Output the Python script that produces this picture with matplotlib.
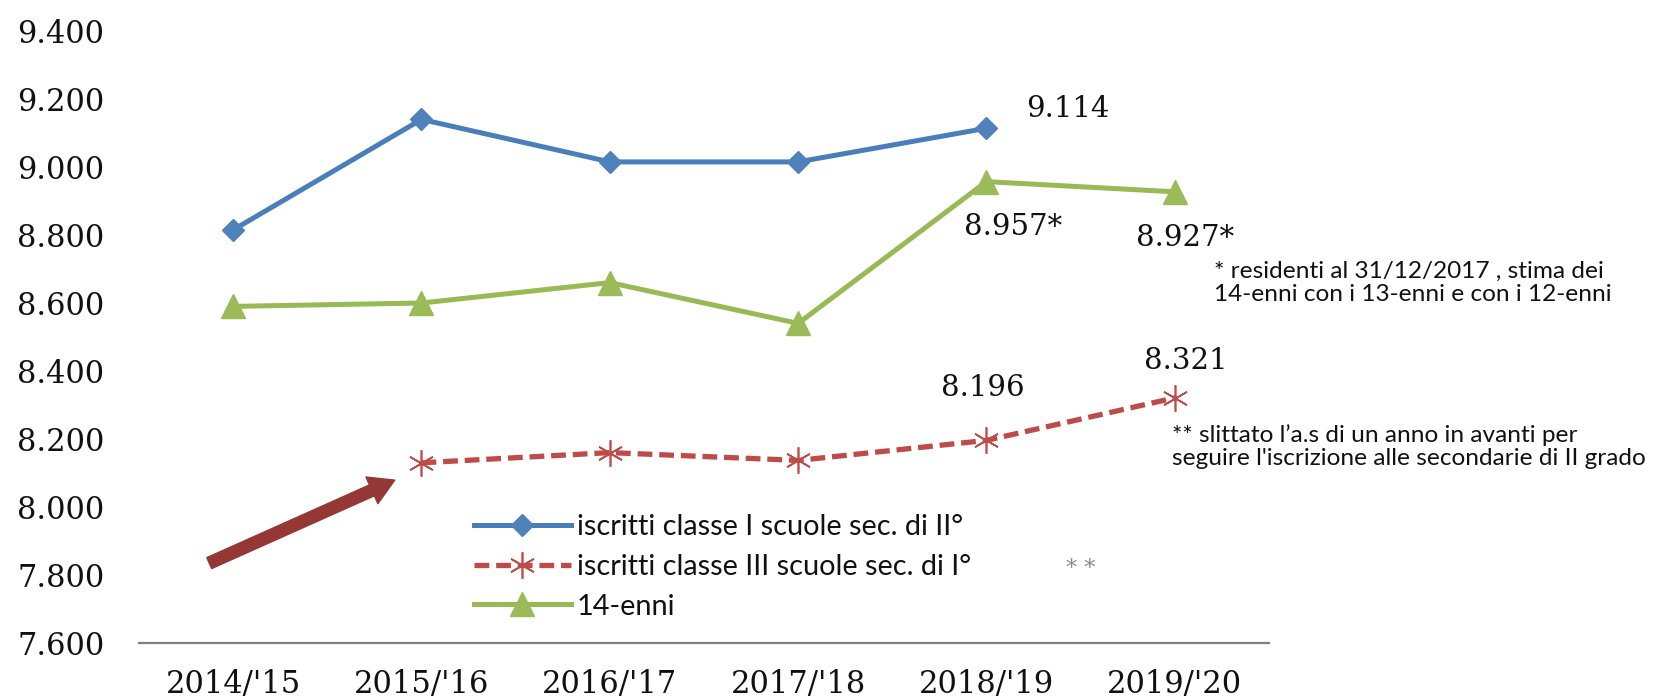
import numpy as np
import matplotlib
matplotlib.use("Agg")
import matplotlib.pyplot as plt
from matplotlib.patches import ArrowStyle

# ---------------- data ----------------
categories = ["2014/'15", "2015/'16", "2016/'17", "2017/'18", "2018/'19", "2019/'20"]
iscritti_I_sec_II = [8815, 9140, 9015, 9015, 9114, np.nan]
iscritti_III_sec_I = [np.nan, 8130, 8160, 8137, 8196, 8321]
quattordicenni = [8590, 8600, 8660, 8540, 8957, 8927]

series_names = ["iscritti classe I scuole sec. di II°",
                "iscritti classe III scuole sec. di I°",
                "14-enni"]

yticks = [7600, 7800, 8000, 8200, 8400, 8600, 8800, 9000, 9200, 9400]
ytick_labels = ["7.600", "7.800", "8.000", "8.200", "8.400", "8.600",
                "8.800", "9.000", "9.200", "9.400"]

# data labels: (category index, value, text)
labels_blue = [(4, 9114, "9.114")]
labels_green = [(4, 8957, "8.957*"), (5, 8927, "8.927*")]
labels_red = [(4, 8196, "8.196"), (5, 8321, "8.321")]

note1 = "* residenti al 31/12/2017 , stima dei\n14-enni con i 13-enni e con i 12-enni"
note2 = "** slittato l\u2019a.s di un anno in avanti per\nseguire l'iscrizione alle secondarie di II grado"

# ---------------- style ----------------
W, H = 1658, 700
BLUE = "#4A7EBB"
RED = "#BE4B48"
GREEN = "#98B954"
ARROW = "#953735"
SERIF = ["DejaVu Serif"]
SANS = ["Lato", "DejaVu Sans"]

fig = plt.figure(figsize=(W / 100, H / 100), dpi=100)
fig.patch.set_facecolor("white")
ax = fig.add_axes([139 / W, 57 / H, 1130 / W, 612 / H])

x = np.arange(len(categories))

ax.plot(x, iscritti_I_sec_II, color=BLUE, lw=3.6, marker="D", markersize=11,
        markerfacecolor="#4F81BD", markeredgecolor="#4F81BD",
        label=series_names[0], zorder=3)
ax.plot(x, iscritti_III_sec_I, color=RED, lw=3.8, dashes=(2.8, 1.3),
        marker=(6, 2, 0), markersize=19, markeredgewidth=1.2,
        markeredgecolor=RED, label=series_names[1], zorder=3)
ax.plot(x, quattordicenni, color=GREEN, lw=3.6, marker="^", markersize=17,
        markerfacecolor="#9BBB59", markeredgecolor="#9BBB59",
        label=series_names[2], zorder=3)

ax.set_xlim(-0.5, len(categories) - 0.5)
ax.set_ylim(yticks[0], yticks[-1])
ax.set_xticks(x)
ax.set_xticklabels(categories, family=SERIF, fontsize=22, color="#111111")
ax.set_yticks(yticks)
ax.set_yticklabels(ytick_labels, family=SERIF, fontsize=22, color="#111111")
ax.tick_params(axis="both", length=0)
ax.tick_params(axis="y", pad=25)
ax.tick_params(axis="x", pad=19)

for s in ["top", "right", "left"]:
    ax.spines[s].set_visible(False)
ax.spines["bottom"].set_color("#808080")
ax.spines["bottom"].set_linewidth(1.6)

# data labels (offsets in pixels)
def lab(items, offsets):
    for (i, v, t), (dx, dy) in zip(items, offsets):
        ax.annotate(t, xy=(i, v), xytext=(dx, dy), textcoords="offset pixels",
                    ha="center", va="center", family=SERIF, fontsize=21,
                    color="#111111")

lab(labels_blue, [(81, 19)])
lab(labels_green, [(27, -45), (10, -46)])
lab(labels_red, [(-4, 52), (11, 37)])

# arrow
ax.annotate("", xy=(0.858, 8079), xytext=(-0.127, 7835),
            arrowprops=dict(arrowstyle=ArrowStyle.Simple(head_length=0.9, head_width=1.05,
                                                         tail_width=0.43),
                            mutation_scale=20, color=ARROW, shrinkA=0, shrinkB=0),
            zorder=4)

# legend
leg = ax.legend(loc="center left", bbox_to_anchor=(474 / W, 1 - 567 / H),
                bbox_transform=fig.transFigure,
                frameon=False, prop={"family": SANS, "size": 20.8},
                handlelength=3.35, handletextpad=0.2, labelspacing=0.47,
                borderpad=0, borderaxespad=0)
for t in leg.get_texts():
    t.set_color("#111111")

fig.text(1081 / W, 1 - 569 / H, "* *", color="#8c8c8c", ha="center", va="center",
         family=SERIF, fontsize=16)

# notes
fig.text(1214 / W, 1 - 283 / H, note1, ha="left", va="center", family=SANS,
         fontsize=17.6, linespacing=1.12, color="#111111")
fig.text(1172 / W, 1 - 447 / H, note2, ha="left", va="center", family=SANS,
         fontsize=17.6, linespacing=1.12, color="#111111")

fig.savefig("out.png", dpi=100, facecolor="white")
